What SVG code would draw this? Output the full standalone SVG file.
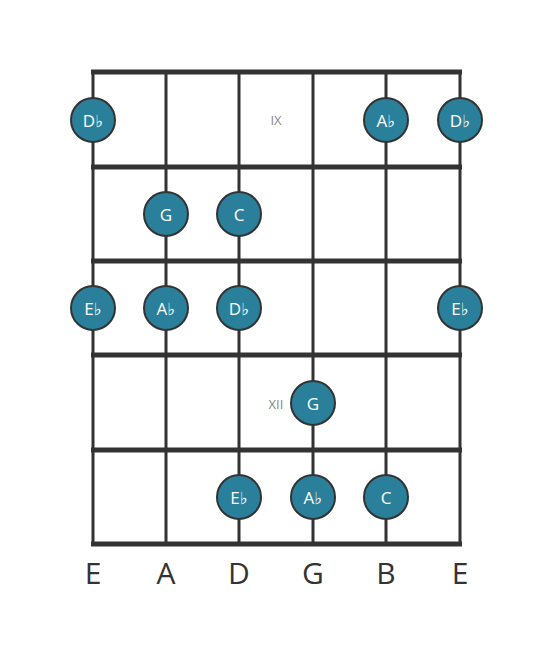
<svg xmlns="http://www.w3.org/2000/svg" width="553" height="656" viewBox="0 0 553 656">
<style>
.str{stroke:#333;stroke-width:3}
.fret{stroke:#333;stroke-width:5}
.note circle{fill:#2a7f9b;stroke:#333;stroke-width:2}
.note text{fill:#fff;font-family:"Open Sans","DejaVu Sans",sans-serif;font-size:17px;text-anchor:middle;dominant-baseline:central}
.pos{fill:#888;font-family:"Open Sans","DejaVu Sans",sans-serif;font-size:13px;text-anchor:middle;dominant-baseline:central}
.sname{fill:#333;font-family:"Open Sans","DejaVu Sans",sans-serif;font-size:30px;text-anchor:middle}
</style>
<rect width="553" height="656" fill="#fff"/>
<g id="connectors">
<line class="str" x1="93" y1="72" x2="93" y2="544"/>
<line class="str" x1="166" y1="72" x2="166" y2="544"/>
<line class="str" x1="239" y1="72" x2="239" y2="544"/>
<line class="str" x1="313" y1="72" x2="313" y2="544"/>
<line class="str" x1="386" y1="72" x2="386" y2="544"/>
<line class="str" x1="460" y1="72" x2="460" y2="544"/>
<line class="fret" x1="91" y1="72" x2="462" y2="72"/>
<line class="fret" x1="91" y1="167" x2="462" y2="167"/>
<line class="fret" x1="91" y1="261" x2="462" y2="261"/>
<line class="fret" x1="91" y1="355" x2="462" y2="355"/>
<line class="fret" x1="91" y1="450" x2="462" y2="450"/>
<line class="fret" x1="91" y1="544" x2="462" y2="544"/>
</g>
<text class="pos" x="276" y="120">IX</text>
<text class="pos" x="276" y="404">XII</text>
<g id="n1" class="note"><circle cx="93" cy="120" r="22"/><text x="93" y="120">D♭</text></g>
<g id="n2" class="note"><circle cx="386" cy="120" r="22"/><text x="386" y="120">A♭</text></g>
<g id="n3" class="note"><circle cx="460" cy="120" r="22"/><text x="460" y="120">D♭</text></g>
<g id="n4" class="note"><circle cx="166" cy="214" r="22"/><text x="166" y="214">G</text></g>
<g id="n5" class="note"><circle cx="239" cy="214" r="22"/><text x="239" y="214">C</text></g>
<g id="n6" class="note"><circle cx="93" cy="308" r="22"/><text x="93" y="308">E♭</text></g>
<g id="n7" class="note"><circle cx="166" cy="308" r="22"/><text x="166" y="308">A♭</text></g>
<g id="n8" class="note"><circle cx="239" cy="308" r="22"/><text x="239" y="308">D♭</text></g>
<g id="n9" class="note"><circle cx="460" cy="308" r="22"/><text x="460" y="308">E♭</text></g>
<g id="n10" class="note"><circle cx="313" cy="403" r="22"/><text x="313" y="403">G</text></g>
<g id="n11" class="note"><circle cx="239" cy="497" r="22"/><text x="239" y="497">E♭</text></g>
<g id="n12" class="note"><circle cx="313" cy="497" r="22"/><text x="313" y="497">A♭</text></g>
<g id="n13" class="note"><circle cx="386" cy="497" r="22"/><text x="386" y="497">C</text></g>
<text class="sname" x="93" y="584">E</text>
<text class="sname" x="166" y="584">A</text>
<text class="sname" x="239" y="584">D</text>
<text class="sname" x="313" y="584">G</text>
<text class="sname" x="386" y="584">B</text>
<text class="sname" x="460" y="584">E</text>
</svg>
